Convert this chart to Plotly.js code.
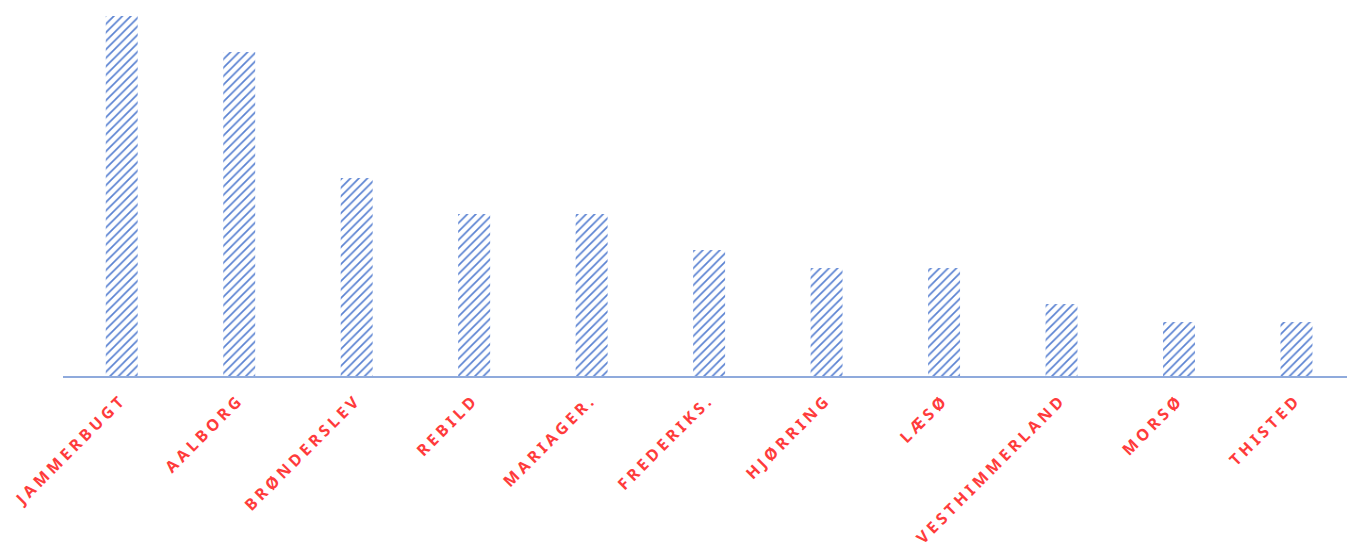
<!DOCTYPE html>
<html>
<head>
<meta charset="utf-8">
<script src="https://cdn.plot.ly/plotly-3.0.1.min.js"></script>
<style>
html,body{margin:0;padding:0;background:#fff;}
#chart{width:1347px;height:544px;}
.xtick text{letter-spacing:3.8px !important; font-weight:bold !important;}
</style>
</head>
<body>
<div id="chart"></div>
<script>
const categories = ["JAMMERBUGT","AALBORG","BRØNDERSLEV","REBILD","MARIAGER.","FREDERIKS.","HJØRRING","LÆSØ","VESTHIMMERLAND","MORSØ","THISTED"];
const values = [20,18,11,9,9,7,6,6,4,3,3];

const trace = {
  type: "bar",
  x: categories,
  y: values,
  marker: {
    color: "#ffffff",
    line: {width: 0},
    pattern: {shape: "/", fgcolor: "#5A82D2", bgcolor: "#ffffff", size: 6, solidity: 0.28}
  },
  hoverinfo: "skip"
};

const layout = {
  width: 1347, height: 544,
  margin: {l: 63, r: 0, t: 16, b: 168},
  paper_bgcolor: "#ffffff",
  plot_bgcolor: "#ffffff",
  bargap: 0.728,
  showlegend: false,
  xaxis: {
    range: [-0.5, 10.43],
    showline: true, linecolor: "#8FAADC", linewidth: 2,
    showgrid: false, zeroline: false,
    tickangle: -45, ticks: "", ticklabelstandoff: 6,
    tickfont: {family: "Noto Sans", size: 16, color: "#FF3B3B", weight: 700}
  },
  yaxis: {
    range: [0, 20], visible: false, showgrid: false, zeroline: false
  }
};

Plotly.newPlot("chart", [trace], layout, {staticPlot: true, displayModeBar: false});
</script>
</body>
</html>
